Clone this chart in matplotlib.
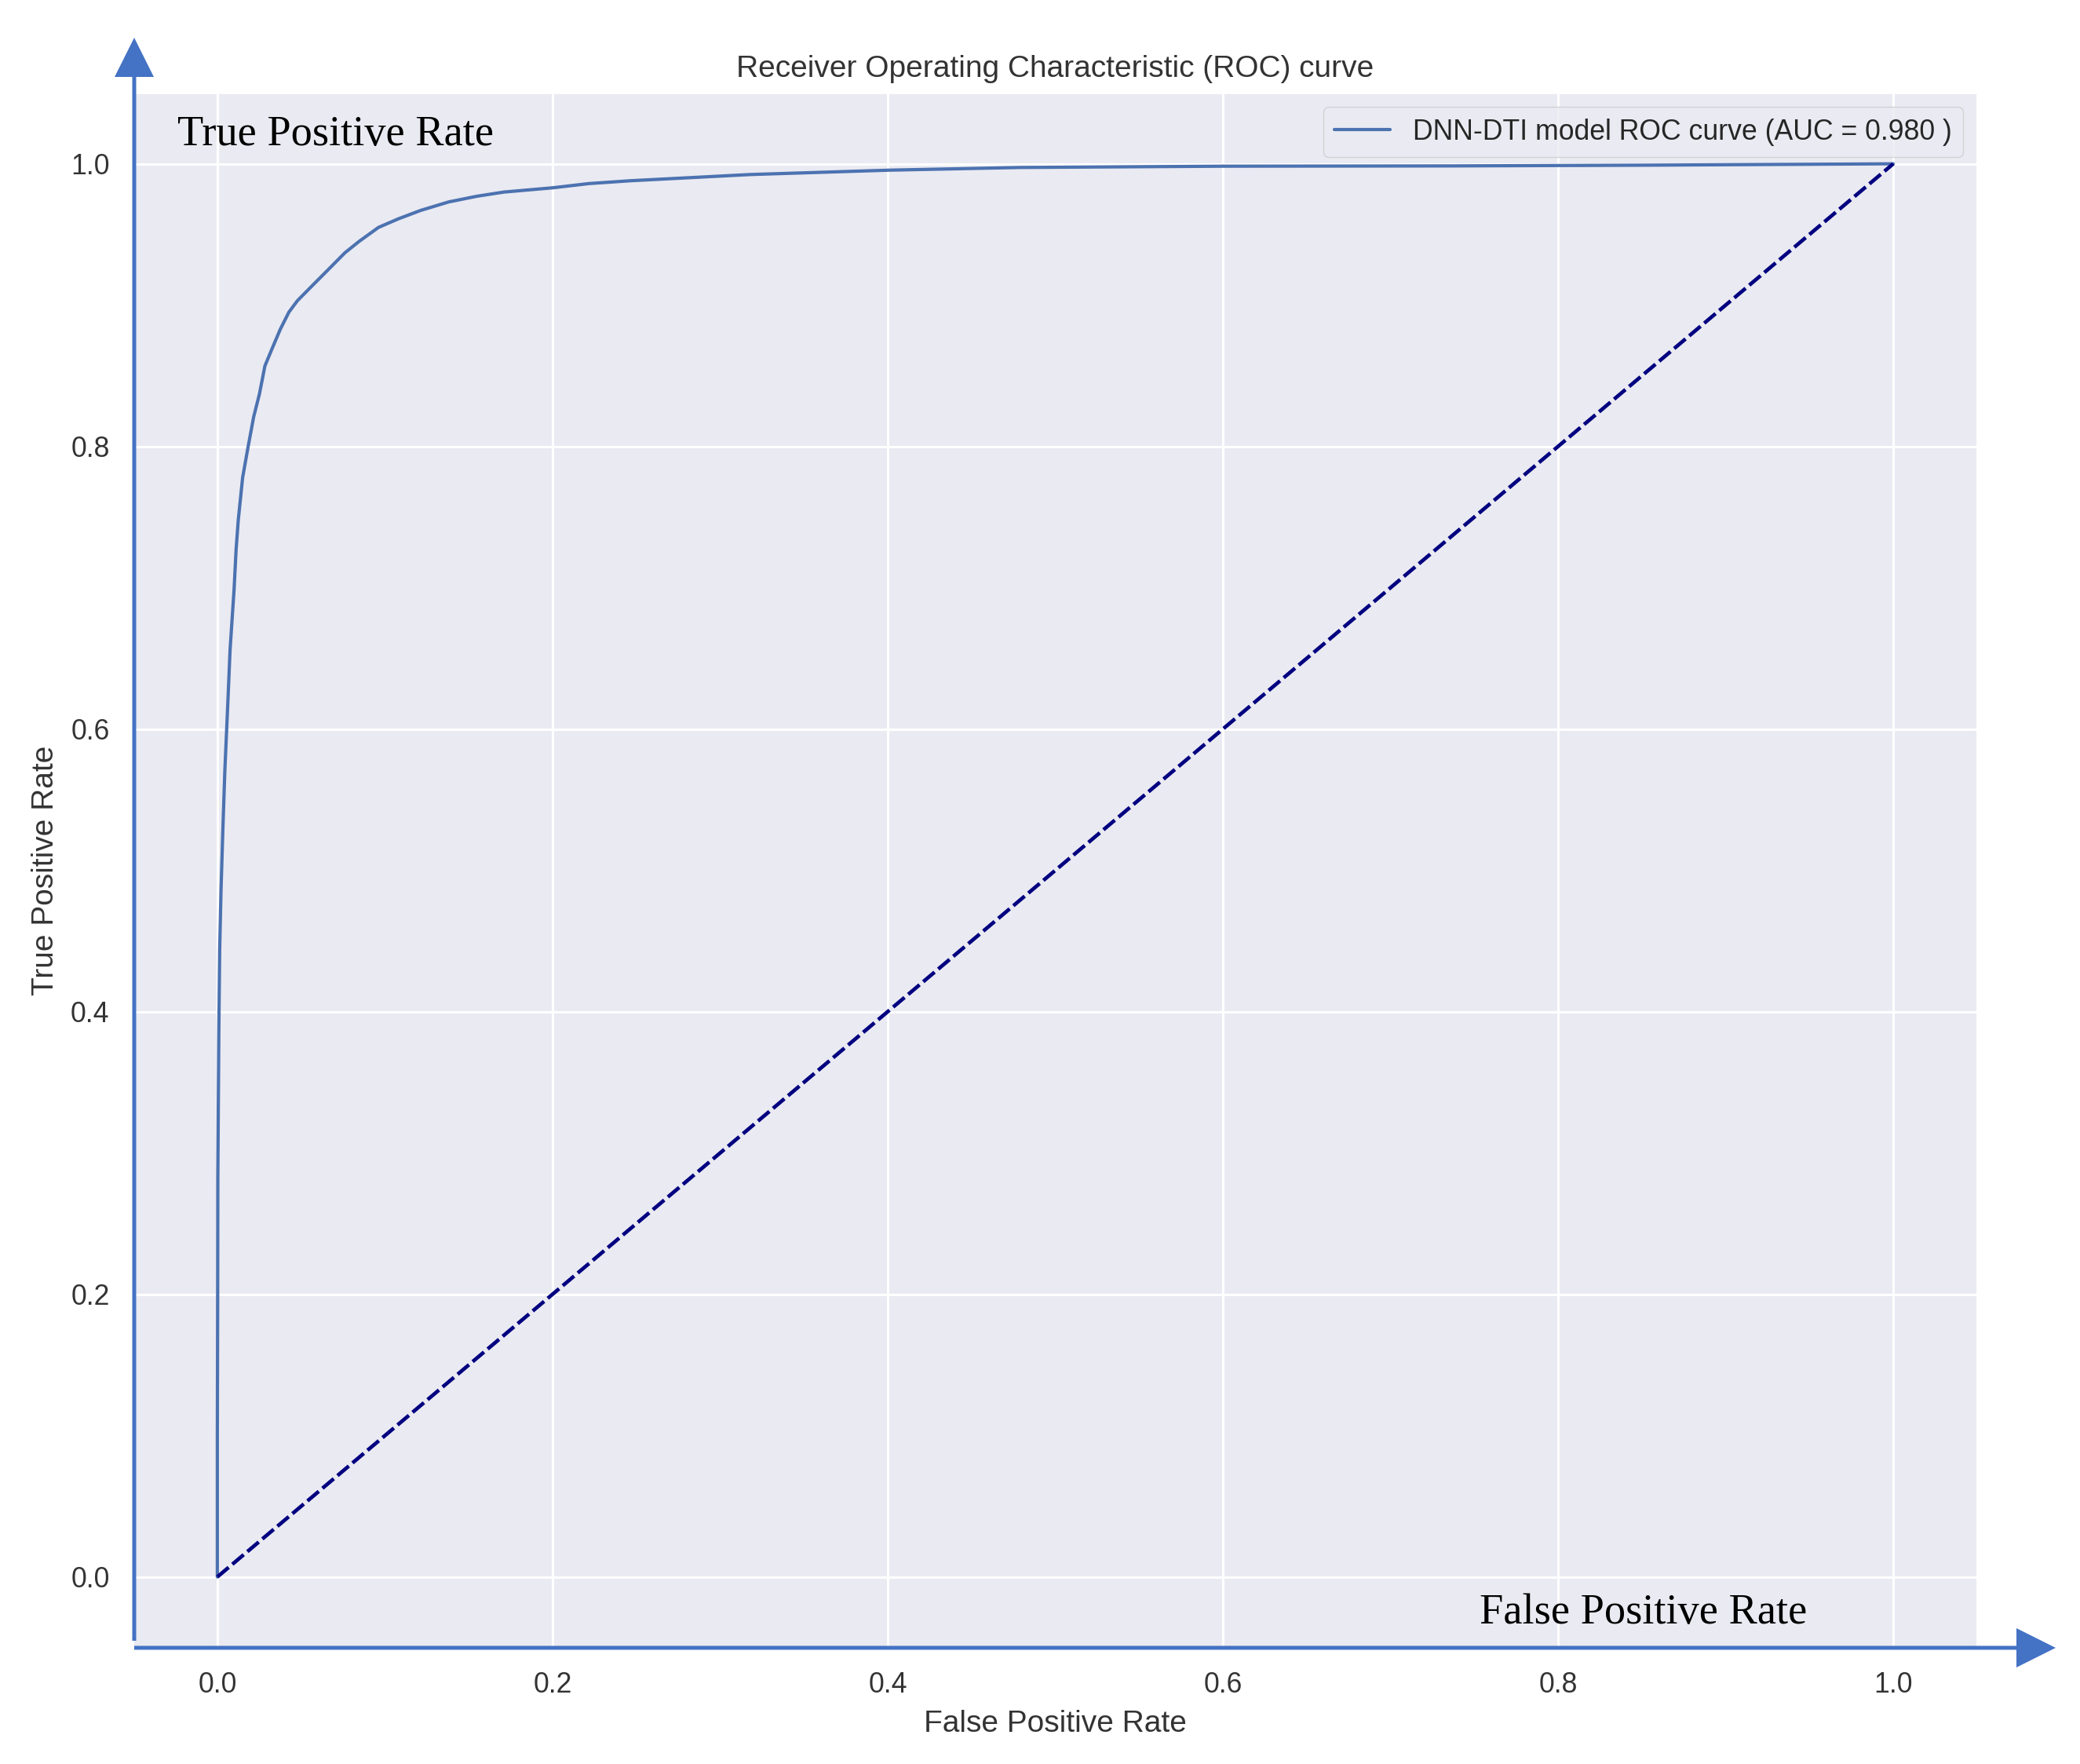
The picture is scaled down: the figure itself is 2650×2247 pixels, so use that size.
import matplotlib
matplotlib.use('Agg')
import matplotlib.pyplot as plt
import seaborn as sns
from matplotlib.patches import FancyArrow
from matplotlib.transforms import IdentityTransform

# ROC curve points
fpr = [0.0, 0.0, 0.0002, 0.0003, 0.0009, 0.0014, 0.0022, 0.0033, 0.0045, 0.0061,
       0.0076, 0.0100, 0.0112, 0.0125, 0.0151, 0.0184, 0.0217, 0.0251, 0.0284,
       0.0326, 0.0376, 0.0427, 0.0477, 0.0560, 0.0661, 0.0761, 0.0845, 0.0962,
       0.1079, 0.1213, 0.138, 0.1547, 0.171, 0.200, 0.2217, 0.2464, 0.318,
       0.401, 0.479, 0.601, 0.737, 0.85, 1.0]
tpr = [0.0, 0.10, 0.20, 0.283, 0.387, 0.444, 0.486, 0.529, 0.571, 0.614,
       0.656, 0.699, 0.727, 0.748, 0.778, 0.800, 0.821, 0.837, 0.857,
       0.869, 0.883, 0.895, 0.903, 0.913, 0.925, 0.937, 0.945, 0.955,
       0.961, 0.967, 0.973, 0.977, 0.980, 0.983, 0.986, 0.988, 0.9924,
       0.9955, 0.9974, 0.9983, 0.9985, 0.999, 1.0]
chance = [0.0, 1.0]
auc_value = 0.980
ticks = [0.0, 0.2, 0.4, 0.6, 0.8, 1.0]

sns.set_theme(style='darkgrid')
plt.rcParams['font.family'] = ['Liberation Sans', 'DejaVu Sans']

W, H = 2650, 2247
fig = plt.figure(figsize=(W / 100, H / 100), dpi=100)
ax = fig.add_axes([0.0642, 0.0660, 0.8863, 0.8812])

ax.plot(fpr, tpr, color='#4C72B0', lw=3.0,
        label='DNN-DTI model ROC curve (AUC = %0.3f )' % auc_value)
ax.plot(chance, chance, color='navy', lw=3.4, linestyle=(0, (4.0, 1.3)))

ax.set_xticks(ticks)
ax.set_yticks(ticks)
ax.set_xlim(-0.05, 1.05)
ax.set_ylim(-0.05, 1.05)
ax.grid(color='white', linewidth=2.2)
ax.tick_params(length=0, pad=22, labelsize=25.7, labelcolor='0.2')
ax.set_xlabel('False Positive Rate', fontsize=28, color='0.2', labelpad=10)
ax.set_ylabel('True Positive Rate', fontsize=28, color='0.2', labelpad=10)
ax.set_title('Receiver Operating Characteristic (ROC) curve', fontsize=28,
             color='0.2', pad=15)
ax.legend(loc='upper right', fontsize=25.7)

# hand-drawn style axis arrows and serif captions on top of the chart
blue = '#4472C4'
fig.add_artist(FancyArrow(171, H - 2090, 0, 2042, width=5, head_width=50,
                          head_length=50, length_includes_head=True,
                          color=blue, lw=0, transform=IdentityTransform()))
fig.add_artist(FancyArrow(171, H - 2099, 2448, 0, width=5, head_width=50,
                          head_length=50, length_includes_head=True,
                          color=blue, lw=0, transform=IdentityTransform()))
fig.text(226 / W, 1 - 185 / H, 'True Positive Rate', family='Liberation Serif',
         fontsize=39.2, color='black', ha='left', va='baseline')
fig.text(1885 / W, 1 - 2068 / H, 'False Positive Rate', family='Liberation Serif',
         fontsize=39.2, color='black', ha='left', va='baseline')

fig.savefig('out.png', dpi=100)
